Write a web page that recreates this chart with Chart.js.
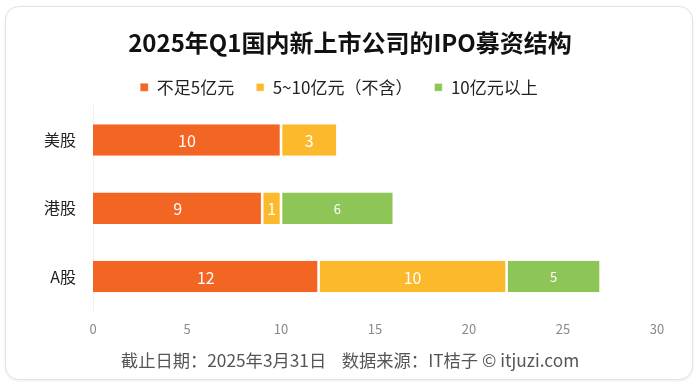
<!DOCTYPE html>
<html><head><meta charset="utf-8">
<script src="https://cdn.jsdelivr.net/npm/chart.js"></script>
<style>
html,body{margin:0;padding:0;background:#fff;}
#wrap{position:relative;width:700px;height:387px;overflow:hidden;}
#card{position:absolute;left:5px;top:6px;width:686px;height:372px;border:1.5px solid #e2e2e2;border-radius:14px;box-shadow:0 1px 3px rgba(0,0,0,0.08);background:#fff;}
canvas{position:absolute;left:0;top:0;}
</style></head>
<body><div id="wrap"><div id="card"></div><canvas id="c" width="700" height="387"></canvas></div>
<script>
const categories = ['美股', '港股', 'A股'];
const seriesNames = ['不足5亿元', '5~10亿元（不含）', '10亿元以上'];
const under5 = [10, 9, 12];
const from5to10 = [3, 1, 10];
const over10 = [0, 6, 5];
const xTicks = [0, 5, 10, 15, 20, 25, 30];
const titleText = '2025年Q1国内新上市公司的IPO募资结构';
const footerText = '截止日期：2025年3月31日    数据来源：IT桔子 © itjuzi.com';

const FONT = '"Noto Sans CJK SC", "Noto Sans", sans-serif';
const colors = ['#F26522', '#FDB92C', '#8DC556'];
const labelSizes = [16, 16, 13];

const labelPlugin = {
  id: 'barLabels',
  afterLayout(chart) {
    const lg = chart.legend;
    if (lg) { lg.left -= 11; lg.right -= 11; }
  },
  afterDatasetsDraw(chart) {
    const ctx = chart.ctx;
    chart.data.datasets.forEach((ds, i) => {
      const meta = chart.getDatasetMeta(i);
      meta.data.forEach((el, j) => {
        const v = ds.data[j];
        if (!v) return;
        const p = el.getCenterPoint();
        ctx.save();
        ctx.fillStyle = '#fff';
        ctx.font = labelSizes[i] + 'px ' + FONT;
        ctx.textAlign = 'center';
        ctx.textBaseline = 'middle';
        ctx.fillText(String(v), p.x, p.y + 1);
        ctx.restore();
      });
    });
  }
};

new Chart(document.getElementById('c'), {
  type: 'bar',
  data: {
    labels: categories,
    datasets: [under5, from5to10, over10].map((d, i) => ({
      label: seriesNames[i],
      data: d,
      backgroundColor: colors[i],
      borderColor: '#fff',
      borderWidth: {left: i === 0 ? 0 : 1.3, right: 1.3, top: 0, bottom: 0},
      borderSkipped: false,
      barPercentage: 0.46,
      categoryPercentage: 1
    }))
  },
  options: {
    indexAxis: 'y',
    responsive: false,
    animation: false,
    layout: {padding: {left: 43, right: 43, top: 28, bottom: 16}},
    plugins: {
      title: {display: true, text: titleText, color: '#111', font: {family: FONT, size: 24, weight: 'bold'}, padding: {top: 0, bottom: 0}},
      subtitle: {display: true, position: 'bottom', text: footerText, color: '#555', font: {family: FONT, size: 17.3}, padding: {top: 10, bottom: 0}},
      legend: {display: true, position: 'top', labels: {boxWidth: 8, boxHeight: 8, padding: 22, color: '#222', font: {family: FONT, size: 17}}},
      tooltip: {enabled: false}
    },
    scales: {
      x: {
        stacked: true, min: 0, max: 30,
        afterBuildTicks: (s) => { s.ticks = xTicks.map(v => ({value: v})); },
        grid: {display: false},
        border: {display: false},
        ticks: {color: '#8a8a8a', font: {family: FONT, size: 13}, padding: 3}
      },
      y: {
        stacked: true,
        afterFit: (s) => { s.width = 50; },
        grid: {display: false},
        border: {display: true, color: '#f0f0f0'},
        ticks: {color: '#222', font: {family: FONT, size: 16}, padding: 9}
      }
    }
  },
  plugins: [labelPlugin]
});
</script></body></html>
